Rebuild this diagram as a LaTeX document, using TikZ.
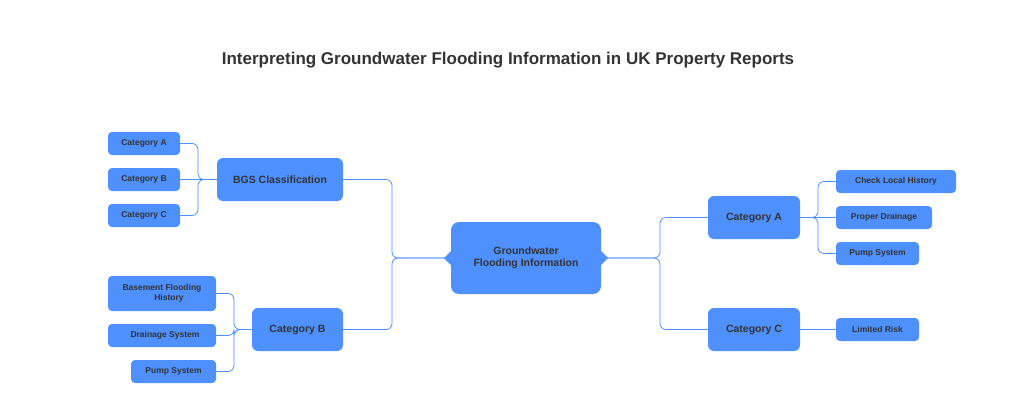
\documentclass[tikz,border=0pt]{standalone}
\usepackage{fontspec}
\setmainfont{Liberation Sans}
\definecolor{bx}{RGB}{77,144,254}
\definecolor{tx}{RGB}{51,51,51}
\definecolor{ln}{RGB}{77,144,254}
\begin{document}
\begin{tikzpicture}[x=1pt,y=-1pt,
  box/.style={fill=bx,draw=none,rounded corners=6pt,text=tx,font=\bfseries\fontsize{10.5}{12}\selectfont,align=center,inner sep=0pt},
  leaf/.style={fill=bx,draw=none,rounded corners=4pt,text=tx,font=\bfseries\fontsize{8.5}{10}\selectfont,align=center,inner sep=0pt},
  con/.style={draw=ln,line width=0.8pt,rounded corners=6pt}]
\useasboundingbox (0,0) rectangle (1016,416);
\node[font=\bfseries\fontsize{17}{20}\selectfont,text=tx] (t) at (508,60) {Interpreting Groundwater Flooding Information in UK Property Reports};
\node[box,minimum width=150pt,minimum height=72pt,rounded corners=8pt] (c) at (526,258) {Groundwater\\Flooding Information};
\fill[bx] (451,251) -- (444,258) -- (451,265) -- cycle;
\fill[bx] (601,251) -- (608,258) -- (601,265) -- cycle;
\node[box,minimum width=126pt,minimum height=43pt] (bgs) at (280,179.5) {BGS Classification};
\node[box,minimum width=91pt,minimum height=43pt] (cb) at (297.5,329.5) {Category B};
\node[box,minimum width=92pt,minimum height=43pt] (ca) at (754,217.5) {Category A};
\node[box,minimum width=92pt,minimum height=43pt] (cc) at (754,329.5) {Category C};
\node[leaf,minimum width=72pt,minimum height=23pt] (l1) at (144,143.5) {Category A};
\node[leaf,minimum width=72pt,minimum height=23pt] (l2) at (144,179.5) {Category B};
\node[leaf,minimum width=72pt,minimum height=23pt] (l3) at (144,215.5) {Category C};
\node[leaf,minimum width=108pt,minimum height=35pt] (l4) at (162,293.5) {Basement Flooding\\\hspace*{14pt}History};
\node[leaf,minimum width=108pt,minimum height=23pt] (l5) at (162,335.5) {\hspace*{6pt}Drainage System};
\node[leaf,minimum width=85pt,minimum height=23pt] (l6) at (173.5,371.5) {Pump System};
\node[leaf,minimum width=120pt,minimum height=23pt] (r1) at (896,181.5) {Check Local History};
\node[leaf,minimum width=96pt,minimum height=23pt] (r2) at (884,217.5) {Proper Drainage};
\node[leaf,minimum width=83pt,minimum height=23pt] (r3) at (877.5,253.5) {Pump System};
\node[leaf,minimum width=83pt,minimum height=23pt] (r4) at (877.5,329.5) {Limited Risk};
\draw[con] (c.west) -- (392,258) |- (bgs.east);
\draw[con] (c.west) -- (392,258) |- (cb.east);
\draw[con] (c.east) -- (660,258) |- (ca.west);
\draw[con] (c.east) -- (660,258) |- (cc.west);
\draw[con] (bgs.west) -- (198,179.5) |- (l1.east);
\draw[con] (bgs.west) -- (l2.east);
\draw[con] (bgs.west) -- (198,179.5) |- (l3.east);
\draw[con] (cb.west) -- (234,329.5) |- (l4.east);
\draw[con] (cb.west) -- (234,329.5) |- (l5.east);
\draw[con] (cb.west) -- (234,329.5) |- (l6.east);
\draw[con] (ca.east) -- (818,217.5) |- (r1.west);
\draw[con] (ca.east) -- (r2.west);
\draw[con] (ca.east) -- (818,217.5) |- (r3.west);
\draw[con] (cc.east) -- (r4.west);
\end{tikzpicture}
\end{document}
